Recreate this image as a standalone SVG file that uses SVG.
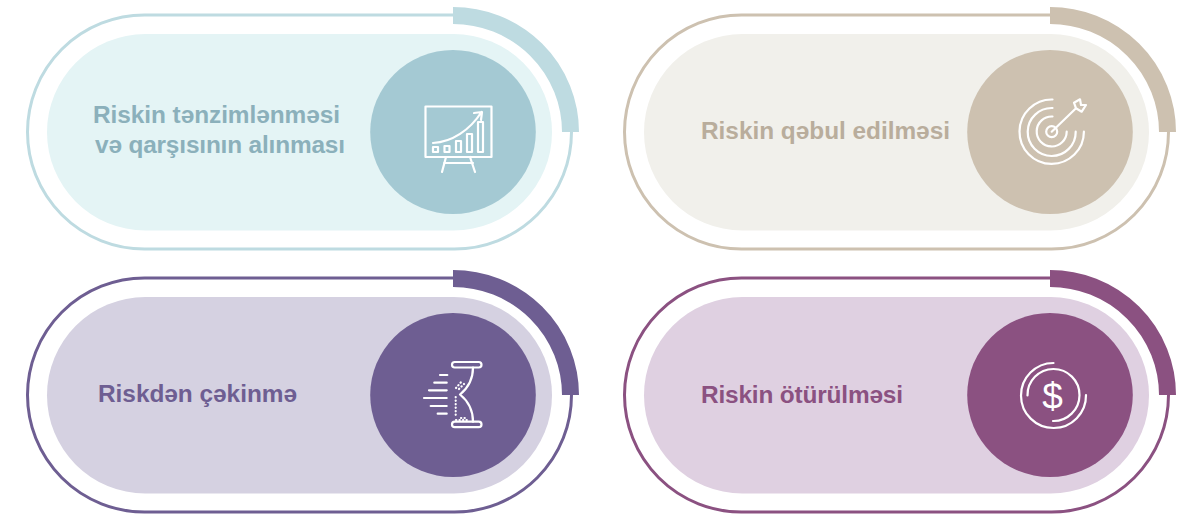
<svg xmlns="http://www.w3.org/2000/svg" width="1189" height="514" viewBox="0 0 1189 514">
<style>
.outer{fill:none;stroke-width:3;stroke:var(--s)}
.arc{fill:none;stroke-width:17;stroke:var(--s)}
.in{fill:var(--i)}
.dot{fill:var(--d)}
.lbl{font-family:"Liberation Sans",Arial,sans-serif;font-weight:700;font-size:24.400px;fill:var(--t)}
.ic{fill:none;stroke:#fff;stroke-width:2.200;stroke-linecap:round;stroke-linejoin:round}
.ict{fill:#fff;stroke:none}
.c1{--s:#bedbe1;--i:#e4f4f5;--d:#a4c9d3;--t:#8bb0bb}
.c2{--s:#cdc1b0;--i:#f1f0eb;--d:#cdc1b0;--t:#b9ad9c}
.c3{--s:#6e5e92;--i:#d5d1e1;--d:#6e5e92;--t:#6e5e92}
.c4{--s:#8b5181;--i:#dfd0e1;--d:#8b5181;--t:#8b5181}
</style>
<defs>
<g id="base">
<rect class="outer" x="27.500" y="15" width="544" height="234" rx="117" ry="117"/>
<rect class="in" x="47" y="34" width="505" height="196.500" rx="98.250" ry="98.250"/>
<path class="arc" d="M453 15.500A117.500 116.500 0 0 1 570.500 132"/>
<ellipse class="dot" cx="453" cy="132" rx="82.800" ry="82"/>
</g>
</defs>
<g id="card-1" class="c1">
<use href="#base"/>
<text class="lbl" x="93" y="123" textLength="247">Riskin tənzimlənməsi</text>
<text class="lbl" x="95" y="153" textLength="250">və qarşısının alınması</text>
<g class="ic">
<rect x="425.500" y="106.500" width="66" height="50.500"/>
<path d="M446 157L442 172M470 157L475 172M444 163H473"/>
<rect x="433" y="147" width="5" height="5"/><rect x="444.500" y="146" width="5" height="6"/><rect x="456" y="141" width="5" height="11"/><rect x="467" y="134" width="5" height="18"/><rect x="478" y="122" width="5" height="30"/>
<path d="M433 143C452 142 470 130 481.500 112M474 113L482 112L481 120"/>
</g>
</g>
<g id="card-2" class="c2" transform="translate(597 0)">
<use href="#base"/>
<text class="lbl" x="104" y="139" textLength="249">Riskin qəbul edilməsi</text>
<g class="ic">
<circle cx="454.700" cy="131.700" r="5.500"/>
<path d="M455.500 116.500A15 15 0 1 0 469.700 131.700"/>
<path d="M455.500 108A24 24 0 1 0 478.700 131.700"/>
<path d="M455.500 99.500A32.200 32.200 0 1 0 486.900 131.700"/>
<path d="M454.700 131.700L479 108.300M477 102.700L483 99.300L484 105L489 105L484.700 111.700L479 108.300Z"/>
</g>
</g>
<g id="card-3" class="c3" transform="translate(0 263)">
<use href="#base"/>
<text class="lbl" x="98" y="139" textLength="199">Riskdən çəkinmə</text>
<g class="ic" transform="translate(0 -263)">
<rect x="452" y="362" width="29.500" height="5.500" rx="2.700"/>
<rect x="452" y="421.700" width="29.500" height="5.500" rx="2.700"/>
<path d="M473 367.500C473 380 468 388 460 394.500C468 401 473 410 473 421.700"/>
<path d="M440 375H447.300M434.300 382.700H446.700M429 390.300H446.700M424 398H446.700M430.700 406H446.700M437.700 413.700H446.700"/>
<path stroke-dasharray="0.300 3.200" d="M455.700 397V416M456 388L462 381M459 389L464 384M461 418L468 418M456 420H470"/>
</g>
</g>
<g id="card-4" class="c4" transform="translate(597 263)">
<use href="#base"/>
<text class="lbl" x="104" y="140" textLength="202">Riskin ötürülməsi</text>
<g class="ic">
<path d="M430.500 132.500A26 26 0 1 1 456 158"/>
<path d="M456.500 100A32.500 32.500 0 1 0 489 132"/>
<text class="ict" x="455.500" y="145.500" text-anchor="middle" font-family="Liberation Sans, Arial, sans-serif" font-size="37">$</text>
</g>
</g>
</svg>
